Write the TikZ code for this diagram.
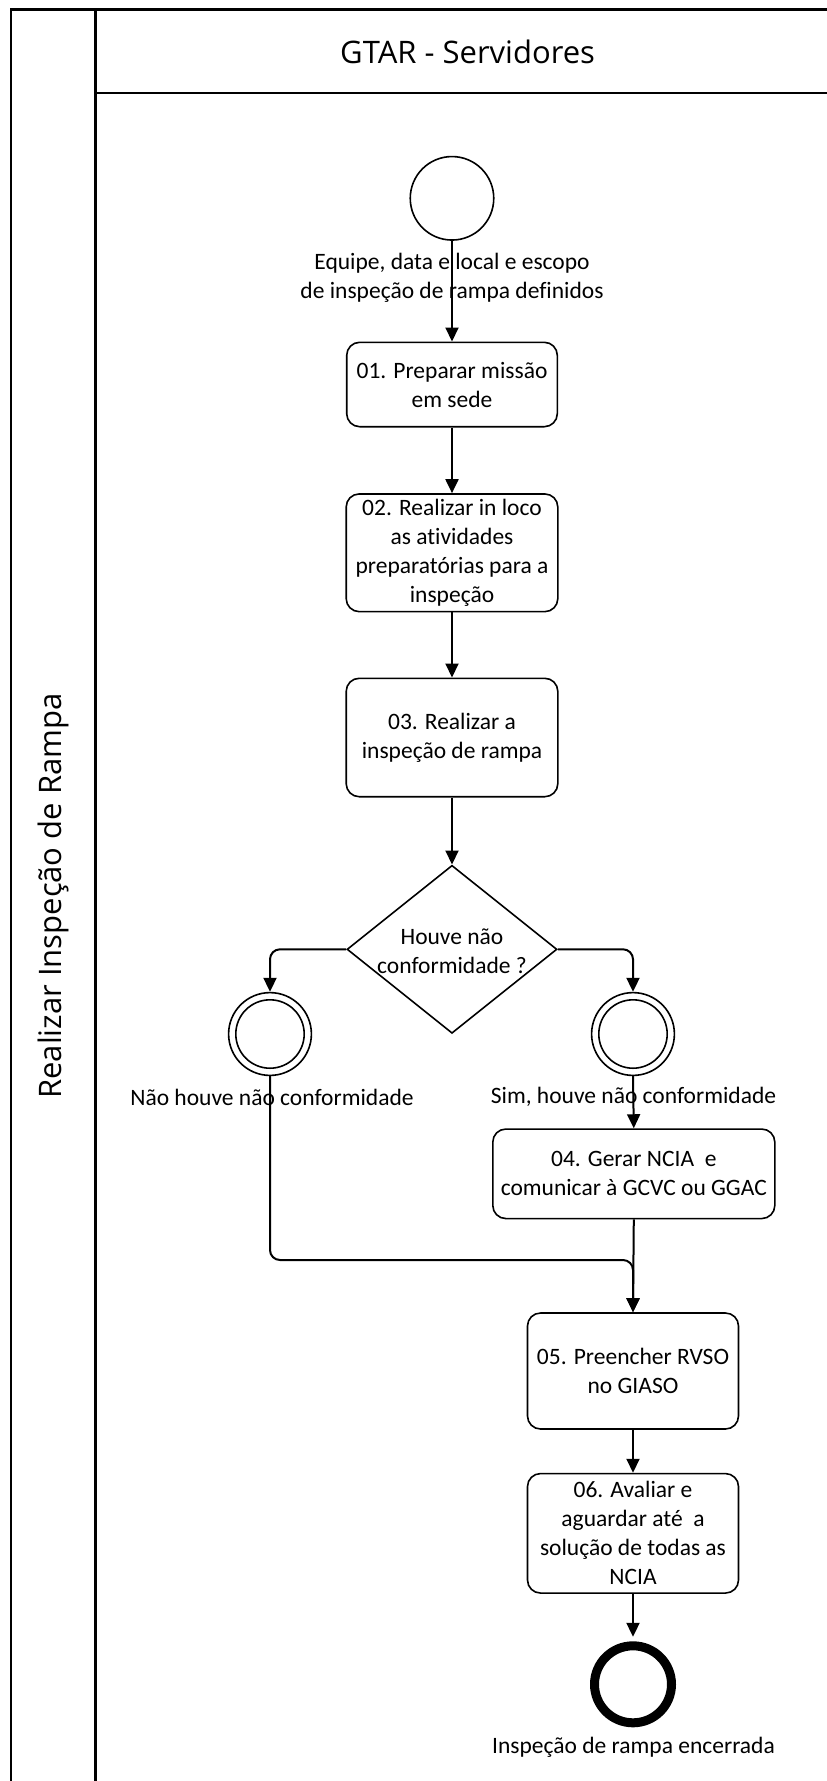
\documentclass[tikz,border=0pt]{standalone}
\usepackage{fontspec}
\setmainfont{Carlito}[Ligatures=NoCommon]
\newfontfamily\lanefont{Open Sans}[Ligatures=NoCommon]
\usetikzlibrary{arrows.meta,shapes.geometric}
\begin{document}
\begin{tikzpicture}[x=1pt,y=-1pt,
  txt/.style={font=\fontsize{23.5}{29}\selectfont, align=center},
  task/.style={draw, line width=1.6pt, rounded corners=13pt, txt, inner sep=0pt},
  startev/.style={draw, circle, line width=1.6pt, minimum size=83.5pt, inner sep=0pt},
  midev/.style={draw, circle, line width=1.6pt, minimum size=82.8pt, inner sep=0pt},
  endev/.style={draw, circle, line width=9pt, minimum size=77pt, inner sep=0pt},
  gateway/.style={draw, diamond, line width=1.6pt, minimum width=210pt, minimum height=168pt, inner sep=0pt},
  flow/.style={draw, line width=2pt, -{Triangle[length=14pt,width=13pt]}},
  frame/.style={line width=2.6pt}]
\useasboundingbox (0,0) rectangle (827,1781);
\clip (0,0) rectangle (827,1781);

% pool and lane
\draw[frame] (11,9.3) rectangle (845,1790);
\draw[frame] (95.3,9.3) -- (95.3,1790);
\draw[frame] (95.3,93) -- (845,93);
\node[font=\lanefont\fontsize{31}{36}\selectfont] (lanetitle) at (467.6,52) {GTAR - Servidores};
\node[font=\lanefont\fontsize{31}{36}\selectfont, rotate=90] (pooltitle) at (53.3,896) {Realizar Inspeção de Rampa};

% events, tasks and gateway
\node[startev] (start) at (452,198.3) {};
\node[txt] (startlbl) at (452,277.5) {Equipe, data e local e escopo\\de inspeção de rampa definidos};

\node[task, minimum width=210.6pt, minimum height=84.4pt] (t1) at (452,384.5) {01. Preparar missão\\em sede};
\node[task, minimum width=211.6pt, minimum height=117.7pt] (t2) at (452,552.8) {02. Realizar in loco\\as atividades\\preparatórias para a\\inspeção};
\node[task, minimum width=211.6pt, minimum height=118.4pt] (t3) at (452,737.5) {03. Realizar a\\inspeção de rampa};

\node[gateway] (gw) at (452,949.3) {};
\node[txt] (gwlbl) at (452,951.5) {Houve não\\conformidade ?};

\node[midev] (noev) at (270,1034) {};
\draw[line width=1.6pt] (noev) circle[radius=34.2];
\node[txt] (nolbl) at (272,1097) {Não houve não conformidade};

\node[midev] (yesev) at (633,1034) {};
\draw[line width=1.6pt] (yesev) circle[radius=34.2];
\node[txt] (yeslbl) at (633.5,1097) {Sim, houve não conformidade};

\node[task, minimum width=282pt, minimum height=89.5pt] (t4) at (633.8,1173.8) {04. Gerar NCIA\ \ e\\comunicar à GCVC ou GGAC};
\node[task, minimum width=211pt, minimum height=116pt] (t5) at (633,1371) {05. Preencher RVSO\\no GIASO};
\node[task, minimum width=211pt, minimum height=119.5pt] (t6) at (633,1533.3) {06. Avaliar e\\aguardar até\ \ a\\solução de todas as\\NCIA};

\node[endev] (stop) at (633,1684.3) {};
\node[txt] (stoplbl) at (633.5,1747.7) {Inspeção de rampa encerrada};

\coordinate (merge) at (633,1260);

% sequence flows
\draw[flow] (start.south) -- (t1.north);
\draw[flow] (t1.south) -- (t2.north);
\draw[flow] (t2.south) -- (t3.north);
\draw[flow] (t3.south) -- (gw.north);
\draw[flow, rounded corners=10pt] (gw.west) -| (noev.north);
\draw[flow, rounded corners=10pt] (gw.east) -| (yesev.north);
\draw[flow] (yesev.south) -- (t4.north);
\draw[flow, rounded corners=10pt] (noev.south) |- (merge) -- (t5.north);
\draw[flow] (t4.south) -- (t5.north);
\draw[flow] (t5.south) -- (t6.north);
\draw[flow, shorten >=4.5pt] (t6.south) -- (stop.north);
\end{tikzpicture}
\end{document}
